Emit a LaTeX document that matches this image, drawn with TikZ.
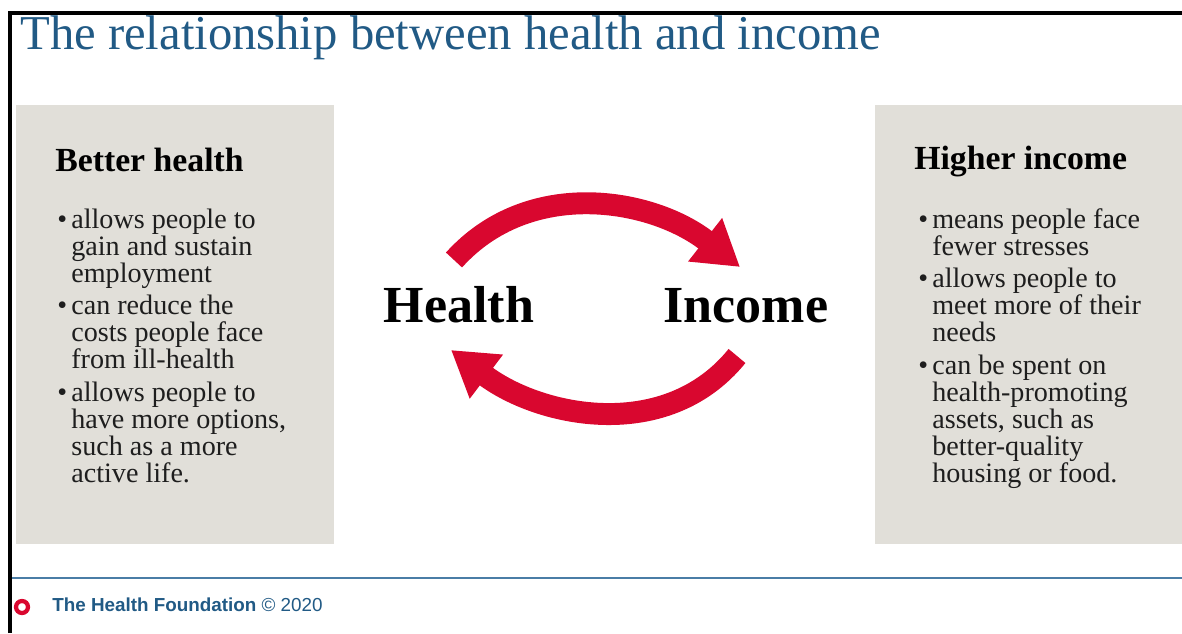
\documentclass[tikz,border=0pt]{standalone}
\usepackage{fontspec}
\setmainfont{Liberation Serif}
\setsansfont{Liberation Sans}
\usetikzlibrary{arrows.meta, positioning}
\usepackage{xcolor}
\definecolor{tfblue}{HTML}{215A85}
\definecolor{ruleblue}{HTML}{4A7DA6}
\definecolor{tfred}{HTML}{D9072F}
\definecolor{panel}{HTML}{E1DFD9}
\definecolor{ink}{HTML}{1E1E1E}

% bullet and hanging indent for the two lists
\newcommand{\bul}{\makebox[10pt][l]{\textbullet}}
\newcommand{\ind}{\hspace*{10pt}}

\begin{document}
\begin{tikzpicture}[x=0.025cm, y=0.025cm,
    heading/.style={inner sep=0pt, anchor=base west, text=black,
        font=\fontsize{24}{26}\selectfont\bfseries},
    % lists hang from the baseline of their last line
    points/.style={inner sep=0pt, anchor=base west, align=left, text=ink,
        font=\fontsize{20}{19.2}\selectfont},
    keyword/.style={inner sep=0pt, anchor=base, text=black,
        font=\fontsize{37}{40}\selectfont\bfseries},
    loop/.style={tfred, line width=15.6pt, -{Triangle[length=31.5pt, width=37pt]}}]
    \useasboundingbox (0,0) rectangle (1182,633);

    % frame and title
    \draw[line width=2.7pt] (10.3,0) -- (10.3,620) -- (1182,620);
    \node[inner sep=0pt, anchor=base west, text=tfblue, font=\fontsize{34.6}{36}\selectfont]
        (title) at (20,583) {The relationship between health and income};

    % side panels
    \fill[panel] (16,89) rectangle (334,528);
    \fill[panel] (875,89) rectangle (1182,528);

    \node[heading] (hhead) at (55,461) {Better health};
    \node[points] (hlist) at (57,151) {\bul allows people to\\
        \ind gain and sustain\\
        \ind employment\\[3.6pt]
        \bul can reduce the\\
        \ind costs people face\\
        \ind from ill-health\\[3.6pt]
        \bul allows people to\\
        \ind have more options,\\
        \ind such as a more\\
        \ind active life.};

    \node[heading] (ihead) at (914,463) {Higher income};
    \node[points] (ilist) at (918,151) {\bul means people face\\
        \ind fewer stresses\\[3.6pt]
        \bul allows people to\\
        \ind meet more of their\\
        \ind needs\\[3.6pt]
        \bul can be spent on\\
        \ind health-promoting\\
        \ind assets, such as\\
        \ind better-quality\\
        \ind housing or food.};

    % the cycle
    \node[keyword] (health) at (459,311) {Health};
    \node[keyword] (income) at (746,311) {Income};
    \coordinate (t1) at (454,373);
    \coordinate (t2) at (740,366);
    \coordinate (b1) at (737,277);
    \coordinate (b2) at (451,283);
    \draw[loop] (t1) to[out=48, in=142] (t2);
    \draw[loop] (b1) to[out=231, in=323] (b2);

    % footer
    \draw[ruleblue, line width=1.5pt] (12,55) -- (1182,55);
    \draw[tfred, line width=3pt] (22,26) circle (6);
    \node[inner sep=0pt, anchor=base west, text=tfblue, font=\sffamily\fontsize{13.4}{15}\selectfont]
        (footer) at (52,22) {\textbf{The Health Foundation} © 2020};
\end{tikzpicture}
\end{document}
